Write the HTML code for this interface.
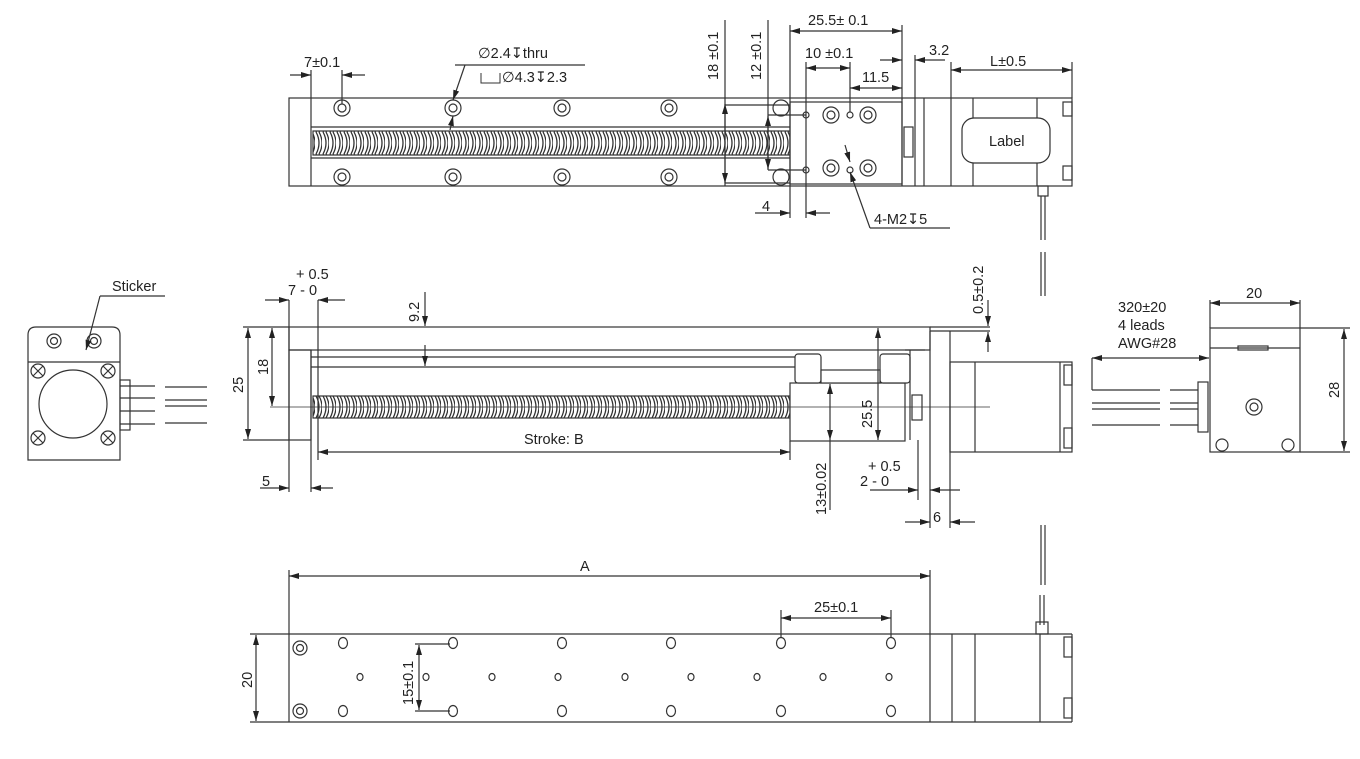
<!DOCTYPE html>
<html><head><meta charset="utf-8"><style>
html,body{margin:0;padding:0;background:#fff}
svg{display:block}
text{font-family:"Liberation Sans",sans-serif;font-size:14.5px;fill:#222}
</style></head><body>
<svg width="1360" height="759" viewBox="0 0 1360 759" xmlns="http://www.w3.org/2000/svg">
<defs>
<marker id="a" viewBox="0 0 10 6" refX="10" refY="3" markerWidth="10" markerHeight="6" orient="auto-start-reverse" markerUnits="userSpaceOnUse"><path d="M0,0 L10,3 L0,6z" fill="#222"/></marker>
<pattern id="scr" x="0" y="0" width="7" height="22" patternUnits="userSpaceOnUse"><path d="M1,0 Q7,11 1,22 M4,0 Q10,11 4,22" stroke="#333" stroke-width="1.3" fill="none"/></pattern>
</defs>
<g stroke="#333" stroke-width="1.2" fill="none">
<!-- ===== TOP VIEW ===== -->
<rect x="289" y="98" width="783" height="88"/>
<line x1="311" y1="98" x2="311" y2="186"/>
<line x1="311" y1="127" x2="790" y2="127"/><line x1="311" y1="158" x2="790" y2="158"/>
<rect x="313" y="131" width="477" height="24" fill="url(#scr)"/>
<g>
<circle cx="342" cy="108" r="8"/><circle cx="342" cy="108" r="4"/>
<circle cx="453" cy="108" r="8"/><circle cx="453" cy="108" r="4"/>
<circle cx="562" cy="108" r="8"/><circle cx="562" cy="108" r="4"/>
<circle cx="669" cy="108" r="8"/><circle cx="669" cy="108" r="4"/>
<circle cx="342" cy="177" r="8"/><circle cx="342" cy="177" r="4"/>
<circle cx="453" cy="177" r="8"/><circle cx="453" cy="177" r="4"/>
<circle cx="562" cy="177" r="8"/><circle cx="562" cy="177" r="4"/>
<circle cx="669" cy="177" r="8"/><circle cx="669" cy="177" r="4"/>
<circle cx="781" cy="108" r="8"/><circle cx="781" cy="177" r="8"/>
</g>
<rect x="790" y="102" width="112" height="82" fill="#fff"/>
<line x1="902" y1="98" x2="902" y2="186"/><line x1="915" y1="98" x2="915" y2="186"/>
<line x1="924" y1="98" x2="924" y2="186"/><line x1="951" y1="98" x2="951" y2="186"/>
<line x1="973" y1="98" x2="973" y2="186"/><line x1="1037" y1="98" x2="1037" y2="186"/>
<rect x="904" y="127" width="9" height="30"/>
<rect x="962" y="118" width="88" height="45" rx="12" fill="#fff"/>
<rect x="1063" y="102" width="9" height="14"/><rect x="1063" y="166" width="9" height="14"/>
<circle cx="806" cy="115" r="3"/><circle cx="806" cy="170" r="3"/>
<circle cx="850" cy="115" r="3"/><circle cx="850" cy="170" r="3"/>
<circle cx="831" cy="115" r="8"/><circle cx="831" cy="115" r="4"/>
<circle cx="868" cy="115" r="8"/><circle cx="868" cy="115" r="4"/>
<circle cx="831" cy="168" r="8"/><circle cx="831" cy="168" r="4"/>
<circle cx="868" cy="168" r="8"/><circle cx="868" cy="168" r="4"/>
<rect x="1038" y="186" width="10" height="10"/>
<line x1="1041" y1="196" x2="1041" y2="240"/><line x1="1045" y1="196" x2="1045" y2="240"/>
<path d="M1041,252 L1041,296 M1045,252 L1045,296"/>
<!-- top view dims -->
<line x1="311" y1="70" x2="311" y2="98"/><line x1="342" y1="70" x2="342" y2="104"/>
<line x1="290" y1="75" x2="311" y2="75" marker-end="url(#a)"/><line x1="365" y1="75" x2="342" y2="75" marker-end="url(#a)"/>
<line x1="455" y1="65" x2="585" y2="65"/><line x1="465" y1="65" x2="453" y2="100" marker-end="url(#a)"/>
<line x1="450" y1="130" x2="453" y2="116" marker-end="url(#a)"/>
<path d="M481,73 L481,83 L500,83 L500,73" stroke-width="1"/>
<line x1="725" y1="20" x2="725" y2="186"/><line x1="725" y1="105" x2="790" y2="105"/><line x1="725" y1="183" x2="790" y2="183"/>
<line x1="725" y1="140" x2="725" y2="104" marker-end="url(#a)"/><line x1="725" y1="150" x2="725" y2="183" marker-end="url(#a)"/>
<line x1="768" y1="20" x2="768" y2="170"/><line x1="768" y1="115" x2="806" y2="115"/><line x1="768" y1="170" x2="806" y2="170"/>
<line x1="768" y1="140" x2="768" y2="116" marker-end="url(#a)"/><line x1="768" y1="145" x2="768" y2="169" marker-end="url(#a)"/>
<line x1="790" y1="25" x2="790" y2="218"/><line x1="902" y1="25" x2="902" y2="100"/>
<line x1="846" y1="31" x2="790" y2="31" marker-end="url(#a)"/><line x1="846" y1="31" x2="902" y2="31" marker-end="url(#a)"/>
<line x1="806" y1="62" x2="806" y2="218"/><line x1="850" y1="62" x2="850" y2="112"/>
<line x1="828" y1="68" x2="806" y2="68" marker-end="url(#a)"/><line x1="828" y1="68" x2="850" y2="68" marker-end="url(#a)"/>
<line x1="876" y1="88" x2="850" y2="88" marker-end="url(#a)"/><line x1="876" y1="88" x2="902" y2="88" marker-end="url(#a)"/>
<line x1="915" y1="55" x2="915" y2="98"/>
<line x1="880" y1="60" x2="902" y2="60" marker-end="url(#a)"/><line x1="945" y1="60" x2="915" y2="60" marker-end="url(#a)"/>
<line x1="951" y1="62" x2="951" y2="98"/><line x1="1072" y1="62" x2="1072" y2="98"/>
<line x1="1011" y1="70" x2="951" y2="70" marker-end="url(#a)"/><line x1="1011" y1="70" x2="1072" y2="70" marker-end="url(#a)"/>
<line x1="755" y1="213" x2="790" y2="213" marker-end="url(#a)"/><line x1="830" y1="213" x2="806" y2="213" marker-end="url(#a)"/>
<line x1="870" y1="228" x2="950" y2="228"/><line x1="870" y1="228" x2="850" y2="172" marker-end="url(#a)"/>
<line x1="845" y1="145" x2="850" y2="162" marker-end="url(#a)"/>
<!-- ===== SIDE VIEW ===== -->
<line x1="289" y1="300" x2="289" y2="492"/>
<rect x="289" y="327" width="641" height="23"/>
<line x1="930" y1="327" x2="990" y2="327"/><line x1="930" y1="331" x2="990" y2="331"/>
<rect x="289" y="350" width="22" height="90"/>
<line x1="311" y1="350" x2="311" y2="492"/>
<line x1="318" y1="300" x2="318" y2="460"/>
<line x1="311" y1="357" x2="800" y2="357"/><line x1="311" y1="367" x2="800" y2="367"/>
<rect x="313" y="396" width="477" height="22" fill="url(#scr)"/>
<rect x="790" y="383" width="115" height="58" fill="#fff"/>
<rect x="795" y="354" width="26" height="29" rx="3" fill="#fff"/><rect x="880" y="354" width="30" height="29" rx="3" fill="#fff"/>
<rect x="821" y="370" width="59" height="13" fill="#fff"/>
<line x1="905" y1="350" x2="925" y2="350"/><line x1="910" y1="350" x2="910" y2="440"/>
<rect x="912" y="395" width="10" height="25"/>
<line x1="918" y1="440" x2="918" y2="500"/><line x1="930" y1="331" x2="930" y2="528"/><line x1="950" y1="331" x2="950" y2="528"/>
<rect x="950" y="362" width="122" height="90"/>
<line x1="975" y1="362" x2="975" y2="452"/><line x1="1060" y1="362" x2="1060" y2="452"/>
<rect x="1064" y="365" width="8" height="20"/><rect x="1064" y="428" width="8" height="20"/>
<line x1="270" y1="407" x2="990" y2="407" stroke-width="0.8"/>
<!-- side dims -->
<line x1="265" y1="300" x2="289" y2="300" marker-end="url(#a)"/><line x1="345" y1="300" x2="318" y2="300" marker-end="url(#a)"/>
<line x1="243" y1="327" x2="289" y2="327"/><line x1="243" y1="440" x2="289" y2="440"/>
<line x1="248" y1="370" x2="248" y2="328" marker-end="url(#a)"/><line x1="248" y1="370" x2="248" y2="439" marker-end="url(#a)"/>
<line x1="272" y1="365" x2="272" y2="328" marker-end="url(#a)"/><line x1="272" y1="365" x2="272" y2="406" marker-end="url(#a)"/>
<line x1="425" y1="292" x2="425" y2="326" marker-end="url(#a)"/><line x1="425" y1="345" x2="425" y2="366" marker-end="url(#a)"/>
<line x1="260" y1="488" x2="289" y2="488" marker-end="url(#a)"/><line x1="333" y1="488" x2="311" y2="488" marker-end="url(#a)"/>
<line x1="550" y1="452" x2="318" y2="452" marker-end="url(#a)"/><line x1="550" y1="452" x2="790" y2="452" marker-end="url(#a)"/>
<line x1="790" y1="441" x2="790" y2="460"/>
<line x1="878" y1="385" x2="878" y2="328" marker-end="url(#a)"/><line x1="878" y1="385" x2="878" y2="440" marker-end="url(#a)"/>
<line x1="830" y1="410" x2="830" y2="384" marker-end="url(#a)"/><line x1="830" y1="410" x2="830" y2="440" marker-end="url(#a)"/><line x1="830" y1="440" x2="830" y2="510"/>
<line x1="870" y1="490" x2="918" y2="490" marker-end="url(#a)"/><line x1="960" y1="490" x2="930" y2="490" marker-end="url(#a)"/>
<line x1="905" y1="522" x2="930" y2="522" marker-end="url(#a)"/><line x1="975" y1="522" x2="950" y2="522" marker-end="url(#a)"/>
<line x1="988" y1="300" x2="988" y2="326" marker-end="url(#a)"/><line x1="988" y1="352" x2="988" y2="332" marker-end="url(#a)"/>
<line x1="1041" y1="525" x2="1041" y2="585"/><line x1="1045" y1="525" x2="1045" y2="585"/>
<line x1="1040" y1="595" x2="1040" y2="625"/><line x1="1044" y1="595" x2="1044" y2="625"/>
<!-- ===== BOTTOM VIEW ===== -->
<line x1="250" y1="634" x2="1072" y2="634"/><line x1="250" y1="722" x2="1072" y2="722"/>
<line x1="289" y1="570" x2="289" y2="722"/><line x1="930" y1="570" x2="930" y2="722"/>
<line x1="952" y1="634" x2="952" y2="722"/><line x1="975" y1="634" x2="975" y2="722"/>
<line x1="1040" y1="634" x2="1040" y2="722"/><line x1="1072" y1="634" x2="1072" y2="722"/>
<rect x="1064" y="637" width="8" height="20"/><rect x="1064" y="698" width="8" height="20"/>
<rect x="1036" y="622" width="12" height="12"/>
<circle cx="300" cy="648" r="7"/><circle cx="300" cy="648" r="3.5"/>
<circle cx="300" cy="711" r="7"/><circle cx="300" cy="711" r="3.5"/>
<g>
<ellipse cx="343" cy="643" rx="4.5" ry="5.5"/><ellipse cx="453" cy="643" rx="4.5" ry="5.5"/><ellipse cx="562" cy="643" rx="4.5" ry="5.5"/><ellipse cx="671" cy="643" rx="4.5" ry="5.5"/><ellipse cx="781" cy="643" rx="4.5" ry="5.5"/><ellipse cx="891" cy="643" rx="4.5" ry="5.5"/>
<ellipse cx="343" cy="711" rx="4.5" ry="5.5"/><ellipse cx="453" cy="711" rx="4.5" ry="5.5"/><ellipse cx="562" cy="711" rx="4.5" ry="5.5"/><ellipse cx="671" cy="711" rx="4.5" ry="5.5"/><ellipse cx="781" cy="711" rx="4.5" ry="5.5"/><ellipse cx="891" cy="711" rx="4.5" ry="5.5"/>
<ellipse cx="360" cy="677" rx="3" ry="3.5"/><ellipse cx="426" cy="677" rx="3" ry="3.5"/><ellipse cx="492" cy="677" rx="3" ry="3.5"/><ellipse cx="558" cy="677" rx="3" ry="3.5"/><ellipse cx="625" cy="677" rx="3" ry="3.5"/><ellipse cx="691" cy="677" rx="3" ry="3.5"/><ellipse cx="757" cy="677" rx="3" ry="3.5"/><ellipse cx="823" cy="677" rx="3" ry="3.5"/><ellipse cx="889" cy="677" rx="3" ry="3.5"/>
</g>
<line x1="600" y1="576" x2="289" y2="576" marker-end="url(#a)"/><line x1="600" y1="576" x2="930" y2="576" marker-end="url(#a)"/>
<line x1="781" y1="610" x2="781" y2="638"/><line x1="891" y1="610" x2="891" y2="638"/>
<line x1="836" y1="618" x2="781" y2="618" marker-end="url(#a)"/><line x1="836" y1="618" x2="891" y2="618" marker-end="url(#a)"/>
<line x1="256" y1="678" x2="256" y2="635" marker-end="url(#a)"/><line x1="256" y1="678" x2="256" y2="721" marker-end="url(#a)"/>
<line x1="415" y1="644" x2="450" y2="644"/><line x1="415" y1="711" x2="450" y2="711"/>
<line x1="419" y1="678" x2="419" y2="645" marker-end="url(#a)"/><line x1="419" y1="678" x2="419" y2="710" marker-end="url(#a)"/>
<!-- ===== LEFT END VIEW ===== -->
<path d="M28,335 Q28,327 36,327 L112,327 Q120,327 120,335 L120,460 L28,460 Z"/>
<line x1="28" y1="362" x2="120" y2="362"/>
<circle cx="54" cy="341" r="7"/><circle cx="54" cy="341" r="3.5"/>
<circle cx="94" cy="341" r="7"/><circle cx="94" cy="341" r="3.5"/>
<circle cx="73" cy="404" r="34"/>
<circle cx="38" cy="371" r="7"/><circle cx="108" cy="371" r="7"/><circle cx="38" cy="438" r="7"/><circle cx="108" cy="438" r="7"/>
<path d="M33,366 L43,376 M43,366 L33,376 M103,366 L113,376 M113,366 L103,376 M33,433 L43,443 M43,433 L33,443 M103,433 L113,443 M113,433 L103,443"/>
<rect x="120" y="380" width="10" height="50"/>
<path d="M120,386 L155,386 M120,398 L155,398 M120,411 L155,411 M120,424 L155,424"/>
<path d="M165,387 L207,387 M165,400 L207,400 M165,406 L207,406 M165,423 L207,423"/>
<line x1="100" y1="296" x2="165" y2="296"/><line x1="100" y1="296" x2="86" y2="350" marker-end="url(#a)"/>
<!-- ===== RIGHT END VIEW ===== -->
<rect x="1210" y="328" width="90" height="124"/>
<line x1="1210" y1="348" x2="1300" y2="348"/>
<rect x="1238" y="346" width="30" height="4"/>
<circle cx="1254" cy="407" r="8"/><circle cx="1254" cy="407" r="4"/>
<circle cx="1222" cy="445" r="6"/><circle cx="1288" cy="445" r="6"/>
<line x1="1210" y1="300" x2="1210" y2="328"/><line x1="1300" y1="300" x2="1300" y2="328"/>
<line x1="1255" y1="303" x2="1210" y2="303" marker-end="url(#a)"/><line x1="1255" y1="303" x2="1300" y2="303" marker-end="url(#a)"/>
<line x1="1300" y1="328" x2="1350" y2="328"/><line x1="1300" y1="452" x2="1350" y2="452"/>
<line x1="1344" y1="390" x2="1344" y2="329" marker-end="url(#a)"/><line x1="1344" y1="390" x2="1344" y2="451" marker-end="url(#a)"/>
<line x1="1092" y1="358" x2="1092" y2="390"/>
<line x1="1150" y1="358" x2="1092" y2="358" marker-end="url(#a)"/><line x1="1150" y1="358" x2="1209" y2="358" marker-end="url(#a)"/>
<rect x="1198" y="382" width="10" height="50"/>
<path d="M1092,390 L1160,390 M1092,403 L1160,403 M1092,409 L1160,409 M1092,425 L1160,425"/>
<path d="M1170,390 L1198,390 M1170,403 L1198,403 M1170,409 L1198,409 M1170,425 L1198,425"/>
</g>
<!-- TEXT -->
<text x="304" y="67">7±0.1</text>
<text x="478" y="58">∅2.4↧thru</text>
<text x="502" y="82">∅4.3↧2.3</text>
<text x="808" y="25">25.5± 0.1</text>
<text x="805" y="58">10 ±0.1</text>
<text x="862" y="82">11.5</text>
<text x="929" y="55">3.2</text>
<text x="990" y="66">L±0.5</text>
<text x="989" y="146">Label</text>
<text x="762" y="211">4</text>
<text x="874" y="224">4-M2↧5</text>
<text transform="translate(718,80) rotate(-90)">18 ±0.1</text>
<text transform="translate(761,80) rotate(-90)">12 ±0.1</text>
<text x="296" y="279">+ 0.5</text>
<text x="288" y="295">7 - 0</text>
<text transform="translate(419,322) rotate(-90)">9.2</text>
<text transform="translate(243,393) rotate(-90)">25</text>
<text transform="translate(268,375) rotate(-90)">18</text>
<text x="262" y="486">5</text>
<text x="524" y="444">Stroke: B</text>
<text transform="translate(872,428) rotate(-90)">25.5</text>
<text transform="translate(826,515) rotate(-90)">13±0.02</text>
<text x="868" y="471">+ 0.5</text>
<text x="860" y="486">2 - 0</text>
<text x="933" y="522">6</text>
<text transform="translate(983,314) rotate(-90)">0.5±0.2</text>
<text x="580" y="571">A</text>
<text x="814" y="612">25±0.1</text>
<text transform="translate(252,688) rotate(-90)">20</text>
<text transform="translate(413,705) rotate(-90)">15±0.1</text>
<text x="112" y="291">Sticker</text>
<text x="1118" y="312">320±20</text>
<text x="1118" y="330">4 leads</text>
<text x="1118" y="348">AWG#28</text>
<text x="1246" y="298">20</text>
<text transform="translate(1339,398) rotate(-90)">28</text>
</svg>
</body></html>
